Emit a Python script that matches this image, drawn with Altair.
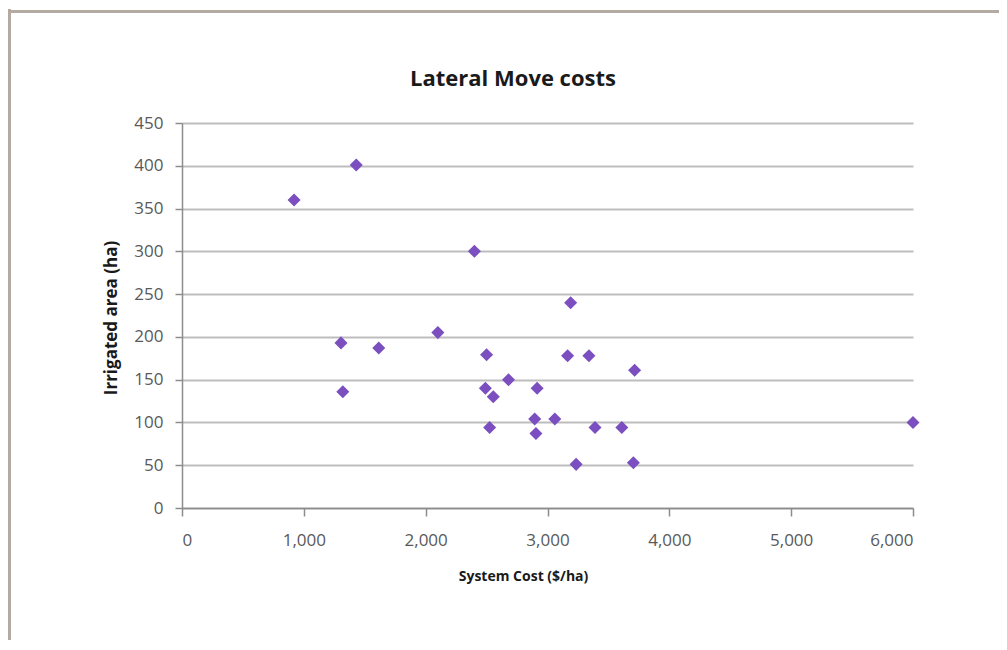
import altair as alt
import pandas as pd

# System cost ($/ha) and irrigated area (ha)
cost = [920, 1430, 2400, 3190, 1305, 1615, 2100, 2500, 3165, 3340, 3715,
        2680, 2490, 2555, 2915, 1320, 2895, 3060, 2525, 2905, 3390, 3610,
        3235, 3705, 6000]
area = [360, 401, 300, 240, 193, 187, 205, 179, 178, 178, 161,
        150, 140, 130, 140, 136, 104, 104, 94, 87, 94, 94,
        51, 53, 100]

x_ticks = [0, 1000, 2000, 3000, 4000, 5000, 6000]
y_ticks = [0, 50, 100, 150, 200, 250, 300, 350, 400, 450]
chart_title = ["Lateral Move costs"]

df = pd.DataFrame({"cost": cost, "area": area})
title_df = pd.DataFrame({"t": chart_title})

FONT = "Open Sans"
W, H = 731, 385
PAD_L, PAD_T = 174, 115

points = alt.Chart(df).mark_point(
    shape="diamond", filled=True, size=170, color="#7b4fbf", opacity=1
).encode(
    x=alt.X("cost:Q",
            scale=alt.Scale(domain=[0, 6000], nice=False, zero=True),
            axis=alt.Axis(values=x_ticks, format=",.0f", title="System Cost ($/ha)",
                          grid=False, tickSize=8, labelPadding=16,
                          titleX=341, titleY=68, titleBaseline="middle",
                          titleAlign="center", titleFontSize=14)),
    y=alt.Y("area:Q",
            scale=alt.Scale(domain=[0, 450], nice=False),
            axis=alt.Axis(values=y_ticks, title="Irrigated area (ha)",
                          grid=True, tickSize=7, labelPadding=12,
                          titleX=-62, titleY=H / 2 + 2, titleAngle=-90,
                          titleAlign="center", titleBaseline="bottom",
                          titleFontSize=17)),
)

title = alt.Chart(title_df).mark_text(
    font=FONT, fontSize=22, fontWeight="bold", color="#1a1a1a",
    align="center", baseline="middle"
).encode(x=alt.value(513 - 182), y=alt.value(79 - 123), text="t:N")

frame_left = alt.Chart(df).mark_rule(color="#b3aba2", strokeWidth=3).encode(
    x=alt.value(-PAD_L + 1.5), y=alt.value(-PAD_T + 1), y2=alt.value(H + 140)
)
frame_top = alt.Chart(df).mark_rule(color="#b3aba2", strokeWidth=3).encode(
    y=alt.value(-PAD_T + 3.5), x=alt.value(-PAD_L), x2=alt.value(W + 90)
)

chart = alt.layer(frame_left, frame_top, title, points).properties(
    width=W, height=H,
    autosize=alt.AutoSizeParams(type="none"),
    padding={"left": PAD_L, "top": PAD_T, "right": 86, "bottom": 132},
).configure_view(stroke=None).configure_axis(
    labelFont=FONT, labelFontSize=17, labelColor="#595959",
    titleFont=FONT, titleFontWeight="bold", titleColor="#1a1a1a",
    domainColor="#8c8c8c", tickColor="#8c8c8c", gridColor="#bdbdbd",
    gridWidth=2, domainWidth=1.5, tickWidth=1.5,
)

chart.save("out.html", embed_options={"renderer": "svg", "actions": False})
